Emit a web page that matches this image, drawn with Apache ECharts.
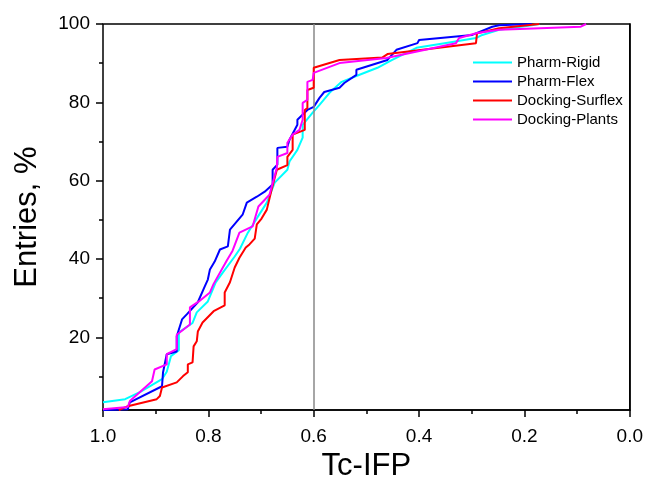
<!DOCTYPE html>
<html>
<head>
<meta charset="utf-8">
<script src="https://cdn.jsdelivr.net/npm/echarts@6/dist/echarts.min.js"></script>
<style>
  html, body { margin: 0; padding: 0; background: #fff; }
</style>
</head>
<body>
<div id="chart" style="width:646px;height:487px;"></div>
<script type="text/javascript">
// 累积分布数据 (Tc-IFP, Entries %)
var rigidX = [1.0, 0.958, 0.930, 0.888, 0.879, 0.871, 0.856, 0.856, 0.830, 0.822, 0.801, 0.786, 0.772, 0.750, 0.740, 0.725, 0.706, 0.689, 0.674, 0.650, 0.646, 0.631, 0.621, 0.621, 0.602, 0.589, 0.570, 0.547, 0.513, 0.479, 0.451, 0.405, 0.337, 0.292, 0.280, 0.248, 0.186, 0.172];
var rigidY = [3.2, 4.0, 5.8, 9.1, 11.0, 15.0, 16.5, 21.1, 23.5, 26.2, 29.0, 33.9, 36.5, 40.5, 42.5, 46.6, 50.7, 54.3, 59.4, 62.7, 64.8, 67.8, 70.9, 74.2, 77.3, 79.3, 82.4, 85.2, 87.0, 88.8, 90.8, 93.9, 95.4, 96.4, 97.2, 98.5, 99.7, 100];

var flexX = [1.0, 0.953, 0.949, 0.888, 0.886, 0.879, 0.860, 0.860, 0.850, 0.841, 0.820, 0.807, 0.801, 0.797, 0.788, 0.778, 0.763, 0.759, 0.735, 0.727, 0.708, 0.693, 0.678, 0.678, 0.669, 0.669, 0.650, 0.646, 0.631, 0.631, 0.612, 0.600, 0.589, 0.580, 0.551, 0.542, 0.519, 0.519, 0.460, 0.443, 0.403, 0.400, 0.299, 0.261, 0.248, 0.186];
var flexY = [1.2, 1.4, 3.2, 7.3, 10.9, 15.5, 16.2, 20.1, 24.4, 25.7, 28.8, 32.8, 34.6, 37.2, 39.2, 42.3, 43.1, 47.4, 51.2, 54.3, 55.8, 57.1, 58.9, 62.7, 64.0, 68.3, 68.6, 70.4, 74.2, 75.5, 78.0, 78.8, 81.1, 82.6, 83.7, 84.9, 87.0, 88.3, 90.8, 93.4, 95.1, 95.9, 97.2, 99.3, 99.7, 100];

var surflexX = [0.970, 0.953, 0.898, 0.892, 0.888, 0.860, 0.848, 0.839, 0.839, 0.830, 0.828, 0.822, 0.820, 0.811, 0.790, 0.769, 0.769, 0.759, 0.750, 0.741, 0.729, 0.722, 0.712, 0.708, 0.699, 0.689, 0.680, 0.670, 0.650, 0.650, 0.640, 0.640, 0.617, 0.617, 0.612, 0.612, 0.600, 0.600, 0.551, 0.470, 0.460, 0.292, 0.290, 0.248, 0.172];
var surflexY = [1.2, 2.2, 4.0, 4.8, 7.0, 8.3, 9.9, 10.9, 12.9, 13.4, 17.5, 18.8, 21.3, 23.6, 26.5, 28.0, 31.3, 33.9, 37.7, 40.2, 42.8, 43.6, 45.1, 48.7, 50.2, 52.5, 57.6, 62.7, 63.9, 66.0, 67.8, 71.7, 72.9, 78.0, 78.5, 83.1, 83.7, 88.8, 90.8, 91.4, 92.3, 95.1, 97.6, 98.9, 100];

var plantsX = [1.0, 0.953, 0.949, 0.907, 0.902, 0.879, 0.879, 0.860, 0.860, 0.835, 0.835, 0.818, 0.797, 0.790, 0.769, 0.765, 0.754, 0.741, 0.716, 0.705, 0.684, 0.670, 0.669, 0.650, 0.650, 0.640, 0.627, 0.621, 0.621, 0.612, 0.612, 0.602, 0.600, 0.551, 0.462, 0.330, 0.324, 0.290, 0.248, 0.093, 0.083];
var plantsY = [1.4, 2.0, 3.5, 8.6, 11.6, 12.9, 15.5, 16.8, 20.5, 23.1, 27.5, 29.0, 31.3, 33.5, 38.5, 39.5, 42.0, 46.6, 48.2, 53.3, 56.3, 63.2, 66.0, 67.0, 69.6, 71.7, 72.9, 75.5, 79.8, 80.6, 85.2, 85.7, 87.5, 90.0, 91.3, 95.1, 96.4, 97.7, 98.5, 99.3, 100];

var seriesNames = ['Pharm-Rigid', 'Pharm-Flex', 'Docking-Surflex', 'Docking-Plants'];
var seriesColors = ['#00ffff', '#0000ff', '#ff0000', '#ff00ff'];
var yMin = 1.2, yMax = 100;
var majorRange = [20, 100];   // 主刻度 20..100
var minorRange = [10, 90];    // 次刻度 10..90
var cutoff = 0.6;

function pairs(xs, ys) {
  var out = [];
  for (var i = 0; i < xs.length; i++) out.push([xs[i], ys[i]]);
  return out;
}

var allData = [pairs(rigidX, rigidY), pairs(flexX, flexY), pairs(surflexX, surflexY), pairs(plantsX, plantsY)];

var myChart = echarts.init(document.getElementById('chart'));
var font = 'Liberation Sans, Arial, sans-serif';
var H = 487, plotTop = 24, plotBottom = 411;
var pxPerUnit = (plotBottom - plotTop) / (yMax - yMin);
function yPix(v) { return plotBottom - (v - yMin) * pxPerUnit; }

// 刻度用的辅助 grid：与主 grid 对齐
function subGrid(range) {
  return { left: 103, right: 15, top: yPix(range[1]), bottom: H - yPix(range[0]), show: false };
}

var series = seriesNames.map(function (name, i) {
  var s = {
    name: name,
    type: 'line',
    xAxisIndex: 0,
    yAxisIndex: 0,
    data: allData[i],
    symbol: 'none',
    lineStyle: { color: seriesColors[i], width: 2 },
    itemStyle: { color: seriesColors[i] },
    z: 3 + i
  };
  if (i === 0) {
    s.markLine = {
      silent: true,
      symbol: 'none',
      label: { show: false },
      lineStyle: { color: '#888', width: 1.5, type: 'solid' },
      data: [{ xAxis: cutoff }]
    };
  }
  return s;
});

var tickStyle = { color: '#000', width: 1.5 };

var option = {
  animation: false,
  grid: [
    { left: 103, right: 15, top: plotTop, bottom: H - plotBottom, show: true, borderColor: '#000', borderWidth: 1.5 },
    subGrid(majorRange),
    subGrid(minorRange)
  ],
  legend: {
    data: seriesNames,
    orient: 'vertical',
    left: 473,
    top: 55,
    padding: 0,
    itemWidth: 39,
    itemHeight: 2,
    itemGap: 4,
    icon: 'rect',
    textStyle: { fontFamily: font, fontSize: 15, color: '#000', lineHeight: 15 }
  },
  xAxis: [{
    type: 'value',
    gridIndex: 0,
    min: 0, max: 1, interval: 0.2,
    inverse: true,
    name: 'Tc-IFP',
    nameLocation: 'middle',
    nameGap: 38,
    nameTextStyle: { fontFamily: font, fontSize: 31, color: '#000' },
    axisLine: { lineStyle: tickStyle },
    axisTick: { length: 7, lineStyle: tickStyle },
    minorTick: { show: true, splitNumber: 2, length: 4, lineStyle: tickStyle },
    axisLabel: {
      margin: 17, fontFamily: font, fontSize: 19, color: '#000',
      formatter: function (v) { return v.toFixed(1); }
    },
    splitLine: { show: false }
  }, {
    type: 'value', gridIndex: 1, min: 0, max: 1, show: false
  }, {
    type: 'value', gridIndex: 2, min: 0, max: 1, show: false
  }],
  yAxis: [{
    type: 'value',
    gridIndex: 0,
    min: yMin, max: yMax,
    name: 'Entries, %',
    nameLocation: 'middle',
    nameGap: 60,
    nameTextStyle: { fontFamily: font, fontSize: 31, color: '#000' },
    axisLine: { lineStyle: tickStyle },
    axisTick: { show: false },
    axisLabel: { show: false },
    splitLine: { show: false }
  }, {
    type: 'value',
    gridIndex: 1,
    min: majorRange[0], max: majorRange[1], interval: 20,
    axisLine: { show: false },
    axisTick: { length: 7, lineStyle: tickStyle },
    axisLabel: { margin: 13, fontFamily: font, fontSize: 19, color: '#000' },
    splitLine: { show: false }
  }, {
    type: 'value',
    gridIndex: 2,
    min: minorRange[0], max: minorRange[1], interval: 20,
    axisLine: { show: false },
    axisTick: { length: 4, lineStyle: tickStyle },
    axisLabel: { show: false },
    splitLine: { show: false }
  }],
  series: series
};
myChart.setOption(option);
</script>
</body>
</html>
